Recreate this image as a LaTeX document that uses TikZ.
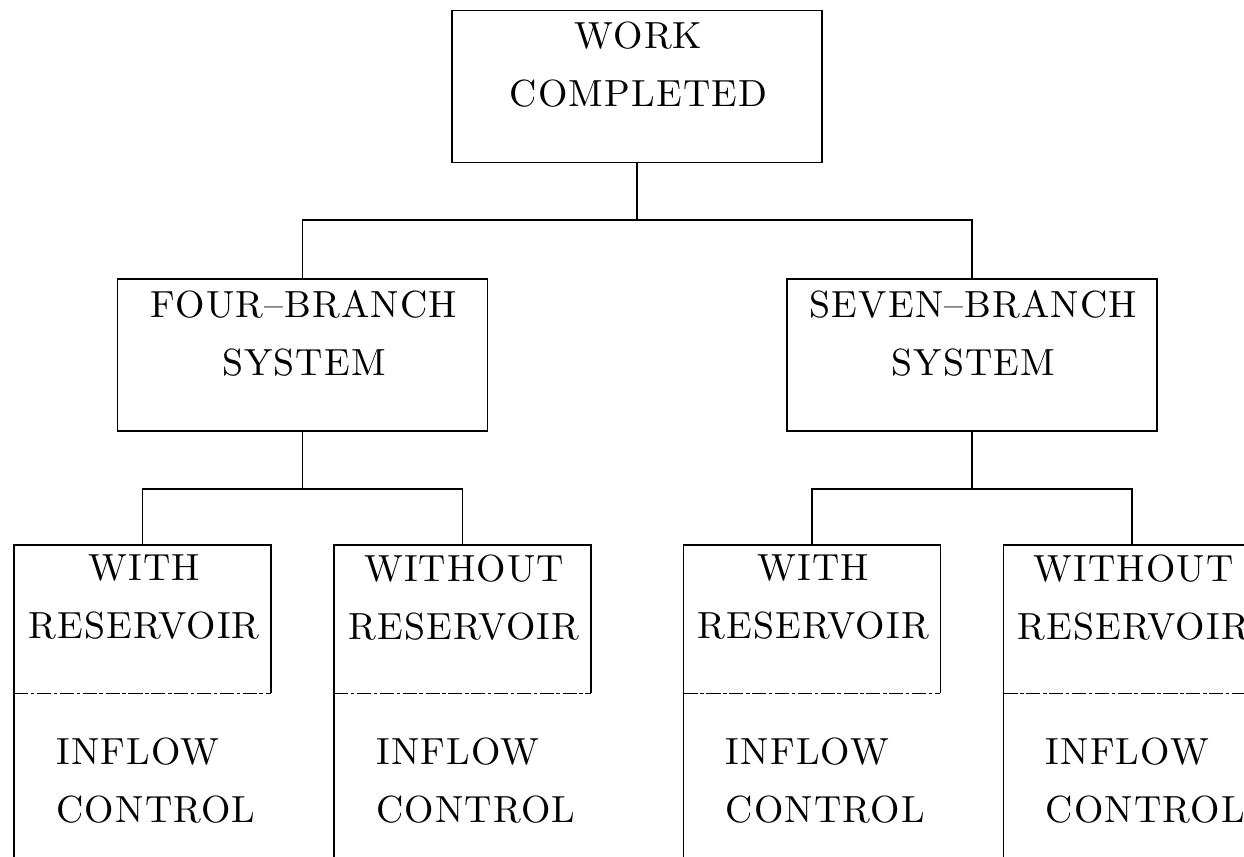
\documentclass[tikz,border=0pt]{standalone}
\usepackage{fontspec}
\newfontfamily\boxfont{lmroman10-regular.otf}[LetterSpace=3, Ligatures=TeX]
\usetikzlibrary{positioning}

\begin{document}
\begin{tikzpicture}[x=0.02cm, y=-0.02cm, node distance = 2.3cm,
box/.style={rectangle, draw, line width=0.9pt, minimum width=7.4cm, minimum height=3.04cm, inner sep=0pt},
subbox/.style={rectangle, minimum width=5.12cm, minimum height=2.96cm, inner sep=0pt},
caption/.style={align=center, anchor=north, inner sep=0pt, font=\boxfont\fontsize{21.5}{33}\selectfont},
note/.style={align=left, anchor=north west, inner sep=0pt, font=\boxfont\fontsize{21.5}{33}\selectfont},
link/.style={line width=0.9pt},
sepline/.style={line width=0.9pt, dash pattern=on 8pt off 1.5pt on 2pt off 1.5pt},
]
\useasboundingbox (0,0) rectangle (1244,856);
\clip (0,0) rectangle (1244,856);

%Nodes
\node [box] (work) at (637,86.5) {};
\node [box] (four) [below = of work, xshift=-6.69cm] {};
\node [box] (seven) [below = of work, xshift=6.7cm] {};
\node [subbox] (b1) [below = 2.26cm of four, xshift=-3.2cm] {};
\node [subbox] (b2) [below = 2.26cm of four, xshift=3.2cm] {};
\node [subbox] (b3) [below = 2.26cm of seven, xshift=-3.2cm] {};
\node [subbox] (b4) [below = 2.26cm of seven, xshift=3.2cm] {};
\coordinate (floor) at (0,870);

\node [caption] (workt) at ([xshift=0.03cm, yshift=-0.24cm]work.north) {WORK\\COMPLETED};
\node [caption] (fourt) at ([xshift=0.03cm, yshift=-0.24cm]four.north) {FOUR--BRANCH\\SYSTEM};
\node [caption] (sevent) at ([xshift=0.03cm, yshift=-0.24cm]seven.north) {SEVEN--BRANCH\\SYSTEM};
\node [caption] (b1t) at ([xshift=0.03cm, yshift=-0.2cm]b1.north) {WITH\\RESERVOIR};
\node [caption] (b2t) at ([xshift=0.03cm, yshift=-0.2cm]b2.north) {WITHOUT\\RESERVOIR};
\node [caption] (b3t) at ([xshift=0.03cm, yshift=-0.2cm]b3.north) {WITH\\RESERVOIR};
\node [caption] (b4t) at ([xshift=0.03cm, yshift=-0.2cm]b4.north) {WITHOUT\\RESERVOIR};
\foreach \b in {b1,b2,b3,b4}
  \node [note] (\b n) at ([xshift=0.84cm, yshift=-0.88cm]\b.south west) {INFLOW\\CONTROL};

% Paths
\foreach \b in {b1,b2,b3,b4} {
  \draw [link] (\b.south west) -- (\b.north west) -- (\b.north east) -- (\b.south east);
  \draw [sepline] (\b.south west) -- (\b.south east);
  \draw [link] (\b.south west) -- (\b.south west |- floor);
}

\draw [link] (work.south) -- ++(0,57) coordinate (bus1);
\draw [link] (four.north) |- (bus1) -| (seven.north);
\draw [link] (four.south) -- ++(0,57) coordinate (bus2);
\draw [link] (b1.north) |- (bus2) -| (b2.north);
\draw [link] (seven.south) -- ++(0,57) coordinate (bus3);
\draw [link] (b3.north) |- (bus3) -| (b4.north);
\end{tikzpicture}
\end{document}
